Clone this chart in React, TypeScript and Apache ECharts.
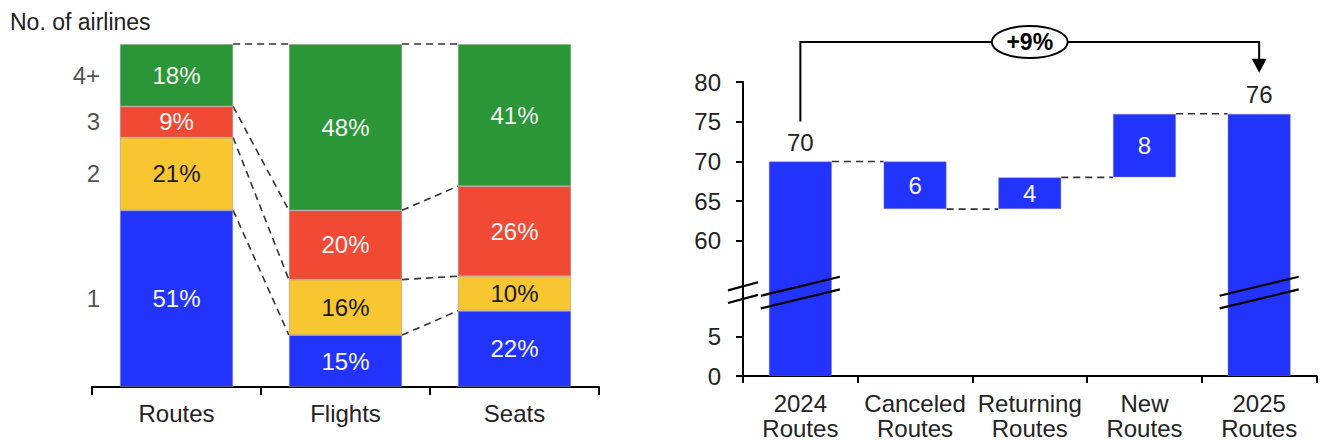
import React, { useEffect, useRef } from "react";
import * as echarts from "echarts";

// ---------- Left chart data: share by number of airlines ----------
const shareCategories = ["Routes", "Flights", "Seats"];
const airlineGroups = ["1", "2", "3", "4+"];
const oneAirline = [51, 15, 22];
const twoAirlines = [21, 16, 10];
const threeAirlines = [9, 20, 26];
const fourPlusAirlines = [18, 48, 41];
const groupColors = ["#2234FC", "#F8C630", "#F04A34", "#2A9638"];
const groupLabelColors = ["#f4f4f4", "#1a1a1a", "#f4f4f4", "#f4f4f4"];

// ---------- Right chart data: route waterfall ----------
const routeSteps = ["2024\nRoutes", "Canceled\nRoutes", "Returning\nRoutes", "New\nRoutes", "2025\nRoutes"];
const routeStart = 70;
const routeChanges = [-6, 4, 8];
const routeEnd = 76;
const axisMin = 0;
const axisMax = 80;
const axisInterval = 5;
const axisBreakStart = 5;
const axisBreakEnd = 60;

const FONT = "Liberation Sans, Arial, sans-serif";
const TXT = "#222222";
const FS = 24;

export default function App() {
  const ref = useRef<HTMLDivElement>(null);

  useEffect(() => {
    if (!ref.current) return;
    const chart = echarts.init(ref.current, undefined, { renderer: "svg" });

    // stacked shares
    const groups = [oneAirline, twoAirlines, threeAirlines, fourPlusAirlines];
    const cumulative: number[][] = []; // cumulative[k][i] = top of group k in category i
    groups.forEach((g, k) => {
      cumulative.push(g.map((v, i) => v + (k > 0 ? cumulative[k - 1][i] : 0)));
    });
    const shareMax = Math.max(...cumulative[groups.length - 1]);
    const leftBarRatio = 0.67;

    // waterfall
    const wfBase: number[] = [0];
    const wfValue: number[] = [routeStart];
    const wfIsTotal: boolean[] = [true];
    const levels: number[] = [routeStart];
    let run = routeStart;
    routeChanges.forEach((c) => {
      const next = run + c;
      wfBase.push(Math.min(run, next));
      wfValue.push(Math.abs(c));
      wfIsTotal.push(false);
      run = next;
      levels.push(run);
    });
    wfBase.push(0);
    wfValue.push(routeEnd);
    wfIsTotal.push(true);
    const rightBarRatio = 0.55;
    const brokenBars = wfBase
      .map((b, i) => (b < axisBreakStart && b + wfValue[i] > axisBreakEnd ? i : -1))
      .filter((i) => i >= 0);
    const growth = Math.round(((routeEnd - routeStart) / routeStart) * 100);
    const growthText = (growth >= 0 ? "+" : "") + growth + "%";

    const dash = { stroke: "#333333", lineWidth: 1.6, lineDash: [7, 5] };

    const option: any = {
      animation: false,
      textStyle: { fontFamily: FONT },
      title: {
        text: "No. of airlines",
        left: 5,
        top: 5,
        textStyle: { fontFamily: FONT, fontSize: 23, fontWeight: "normal", color: TXT },
      },
      grid: [
        { left: 92, top: 44, width: 507, height: 343 },
        { left: 743, top: 82, width: 573.5, height: 295 },
      ],
      xAxis: [
        {
          type: "category",
          gridIndex: 0,
          data: shareCategories,
          axisLine: { lineStyle: { color: "#000", width: 2 } },
          axisTick: { show: true, length: 8, lineStyle: { color: "#000", width: 2 } },
          axisLabel: { fontSize: FS, color: TXT, margin: 14, fontFamily: FONT },
        },
        {
          type: "category",
          gridIndex: 1,
          data: routeSteps,
          axisLine: { lineStyle: { color: "#000", width: 2 } },
          axisTick: { show: true, length: 7, lineStyle: { color: "#000", width: 2 } },
          axisLabel: { fontSize: FS, color: TXT, margin: 15, lineHeight: 25, fontFamily: FONT, interval: 0 },
        },
      ],
      yAxis: [
        { type: "value", gridIndex: 0, min: 0, max: shareMax, show: false, splitLine: { show: false } },
        {
          type: "value",
          gridIndex: 1,
          min: axisMin,
          max: axisMax,
          interval: axisInterval,
          breaks: [{ start: axisBreakStart, end: axisBreakEnd, gap: 12 }],
          breakArea: { show: false },
          axisLine: { show: true, lineStyle: { color: "#000", width: 2 } },
          axisTick: { show: true, length: 7, lineStyle: { color: "#000", width: 2 } },
          axisLabel: { fontSize: FS, color: TXT, margin: 22, fontFamily: FONT },
          splitLine: { show: false },
        },
      ],
      series: [
        ...groups.map((g, k) => ({
          type: "bar",
          name: airlineGroups[k],
          stack: "share",
          xAxisIndex: 0,
          yAxisIndex: 0,
          barWidth: leftBarRatio * 100 + "%",
          data: g,
          itemStyle: { color: groupColors[k], borderColor: "rgba(150,150,150,0.7)", borderWidth: 0.8 },
          label: {
            show: true,
            position: "inside",
            formatter: "{c}%",
            color: groupLabelColors[k],
            fontSize: FS,
            fontFamily: FONT,
          },
          emphasis: { disabled: true },
        })),
        {
          type: "scatter",
          xAxisIndex: 0,
          yAxisIndex: 0,
          symbolSize: 1,
          itemStyle: { color: "rgba(0,0,0,0)" },
          data: groups.map((g, k) => ({
            name: airlineGroups[k],
            value: [0, cumulative[k][0] - g[0] / 2],
          })),
          label: { show: true, position: "left", distance: 76, formatter: "{b}", color: TXT, fontSize: FS, fontFamily: FONT },
          emphasis: { disabled: true },
          silent: true,
        },
        {
          type: "custom",
          xAxisIndex: 0,
          yAxisIndex: 0,
          silent: true,
          data: shareCategories.slice(0, -1).flatMap((_, i) => groups.map((__, k) => [i, k])),
          encode: { x: 0 },
          renderItem: (_params: any, api: any) => {
            const i = api.value(0);
            const k = api.value(1);
            const half = (api.size([1, 0])[0] * leftBarRatio) / 2;
            const p1 = api.coord([i, cumulative[k][i]]);
            const p2 = api.coord([i + 1, cumulative[k][i + 1]]);
            return {
              type: "line",
              shape: { x1: p1[0] + half, y1: p1[1], x2: p2[0] - half, y2: p2[1] },
              style: dash,
            };
          },
        },
        {
          type: "bar",
          stack: "wf",
          xAxisIndex: 1,
          yAxisIndex: 1,
          barWidth: rightBarRatio * 100 + "%",
          data: wfBase,
          itemStyle: { color: "rgba(0,0,0,0)" },
          emphasis: { disabled: true },
          silent: true,
        },
        {
          type: "bar",
          stack: "wf",
          xAxisIndex: 1,
          yAxisIndex: 1,
          barWidth: rightBarRatio * 100 + "%",
          data: wfValue.map((v, i) => ({
            value: v,
            label: wfIsTotal[i]
              ? { show: true, position: "top", distance: 7, color: TXT }
              : { show: true, position: "inside", color: "#f4f4f4" },
          })),
          itemStyle: { color: groupColors[0], borderColor: "rgba(130,130,160,0.6)", borderWidth: 0.8 },
          label: { show: true, fontSize: FS, fontFamily: FONT, formatter: "{c}" },
          emphasis: { disabled: true },
        },
        {
          type: "custom",
          xAxisIndex: 1,
          yAxisIndex: 1,
          silent: true,
          data: levels.map((lv, i) => [i, lv]),
          encode: { x: 0, y: 1 },
          renderItem: (_params: any, api: any) => {
            const i = api.value(0);
            const lv = api.value(1);
            const half = (api.size([1, 0])[0] * rightBarRatio) / 2;
            const p1 = api.coord([i, lv]);
            const p2 = api.coord([i + 1, lv]);
            return {
              type: "line",
              shape: { x1: p1[0] + half, y1: p1[1], x2: p2[0] - half, y2: p2[1] },
              style: dash,
            };
          },
        },
        {
          type: "custom",
          xAxisIndex: 1,
          yAxisIndex: 1,
          silent: true,
          z: 10,
          data: [...brokenBars.map((i) => [i, axisBreakStart, 0]), [0, axisBreakStart, 1]],
          encode: { x: 0, y: 1 },
          renderItem: (params: any, api: any) => {
            const i = api.value(0);
            const onAxis = api.value(2) === 1;
            const yA = api.coord([i, axisBreakStart])[1];
            const yB = api.coord([i, axisBreakEnd])[1];
            const mid = (yA + yB) / 2 + 4;
            let xL: number, xR: number, slope: number;
            const children: any[] = [];
            if (onAxis) {
              const ax = params.coordSys.x;
              xL = ax - 15;
              xR = ax + 15;
              slope = 0.27;
              children.push({
                type: "line",
                shape: { x1: ax, y1: yB, x2: ax, y2: yA },
                style: { stroke: "#000", lineWidth: 2 },
              });
            } else {
              const c = api.coord([i, axisBreakStart])[0];
              const half = (api.size([1, 0])[0] * rightBarRatio) / 2;
              xL = c - half - 8;
              xR = c + half + 8;
              slope = 0.24;
            }
            const xc = (xL + xR) / 2;
            const mk = (off: number) => ({
              type: "line",
              shape: {
                x1: xL,
                y1: mid + off + (xc - xL) * slope,
                x2: xR,
                y2: mid + off - (xR - xc) * slope,
              },
              style: { stroke: "#000", lineWidth: 2.2 },
            });
            children.push(mk(-6.3), mk(6.3));
            return { type: "group", children };
          },
        },
        {
          type: "custom",
          xAxisIndex: 1,
          yAxisIndex: 1,
          silent: true,
          z: 10,
          data: [[0, routeStart, routeSteps.length - 1, routeEnd]],
          encode: { x: 0, y: 1 },
          renderItem: (params: any, api: any) => {
            const a = api.coord([api.value(0), api.value(1)]);
            const b = api.coord([api.value(2), api.value(3)]);
            const topY = params.coordSys.y - 40;
            const ya = a[1] - 40;
            const tip = b[1] - 41;
            const cx = (a[0] + b[0]) / 2;
            return {
              type: "group",
              children: [
                {
                  type: "polyline",
                  shape: { points: [[a[0], ya], [a[0], topY], [b[0], topY], [b[0], tip - 13]] },
                  style: { stroke: "#000", lineWidth: 2, fill: null },
                },
                {
                  type: "polygon",
                  shape: { points: [[b[0] - 7.5, tip - 14], [b[0] + 7.5, tip - 14], [b[0], tip]] },
                  style: { fill: "#000" },
                },
                {
                  type: "ellipse",
                  shape: { cx, cy: topY, rx: 38, ry: 16 },
                  style: { fill: "#fff", stroke: "#000", lineWidth: 2 },
                },
                {
                  type: "text",
                  x: cx,
                  y: topY,
                  style: {
                    text: growthText,
                    fill: "#000",
                    fontSize: 23,
                    fontWeight: "bold",
                    fontFamily: FONT,
                    align: "center",
                    verticalAlign: "middle",
                  },
                },
              ],
            };
          },
        },
      ],
    };

    chart.setOption(option);
    return () => chart.dispose();
  }, []);

  return (
    <div
      ref={ref}
      style={{ position: "absolute", left: 0, top: 0, width: 1323, height: 441, background: "#fff" }}
    />
  );
}
